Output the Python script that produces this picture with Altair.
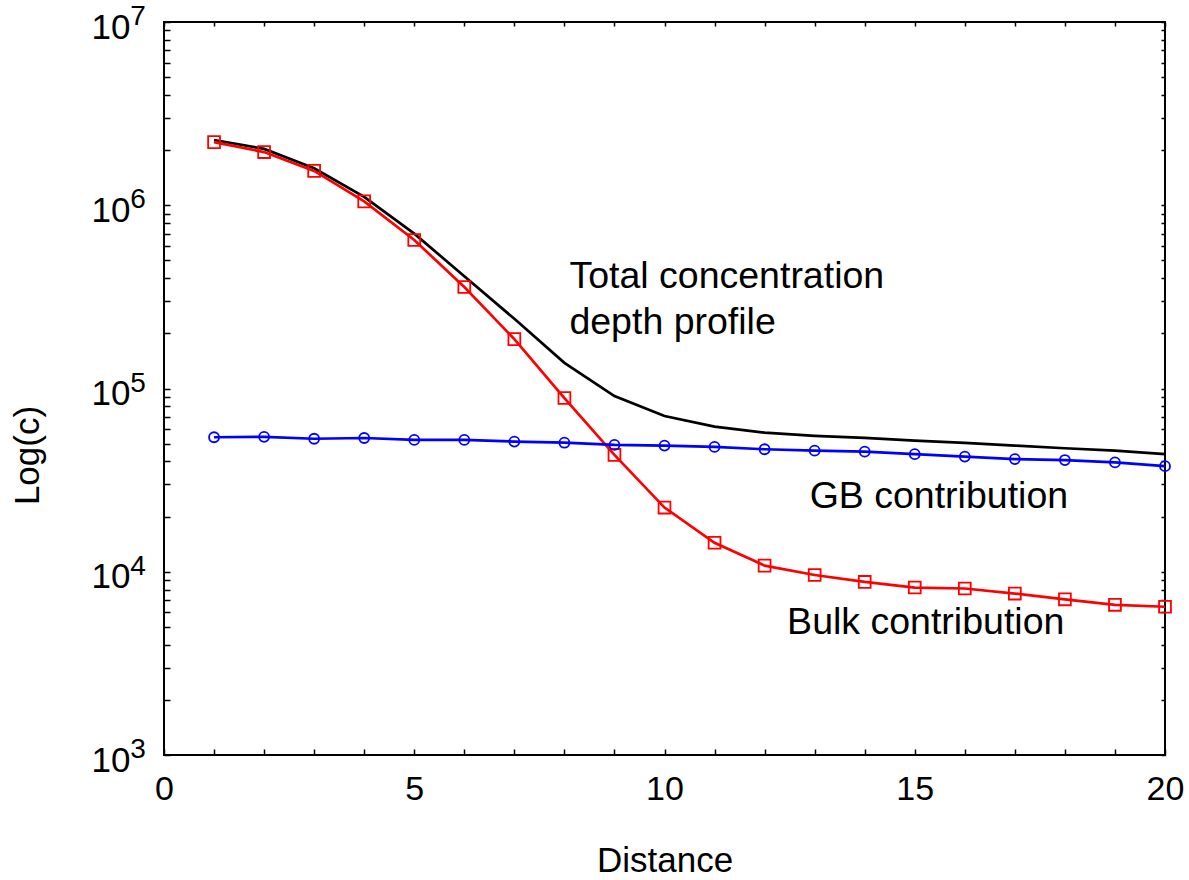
import altair as alt
import pandas as pd

# Depth profiles: concentration vs distance
distance = list(range(1, 21))
total = [2.27e6, 2.03e6, 1.59e6, 1.11e6, 7.0e5, 4.1e5, 2.4e5, 1.38e5, 9.1e4, 7.08e4,
         6.2e4, 5.74e4, 5.52e4, 5.38e4, 5.19e4, 5.05e4, 4.88e4, 4.72e4, 4.58e4, 4.38e4]
bulk = [2.21e6, 1.95e6, 1.54e6, 1.05e6, 6.46e5, 3.58e5, 1.86e5, 8.87e4, 4.34e4, 2.24e4,
        1.44e4, 1.08e4, 9.6e3, 8.8e3, 8.2e3, 8.1e3, 7.6e3, 7.07e3, 6.6e3, 6.44e3]
gb = [5.42e4, 5.45e4, 5.32e4, 5.37e4, 5.24e4, 5.24e4, 5.13e4, 5.06e4, 4.92e4, 4.88e4,
      4.8e4, 4.66e4, 4.58e4, 4.52e4, 4.38e4, 4.25e4, 4.12e4, 4.07e4, 3.95e4, 3.77e4]

# Curve annotations (data coordinates)
note_text = ["Total concentration", "depth profile", "GB contribution", "Bulk contribution"]
note_x = [8.1, 8.1, 12.9, 12.45]
note_y = [4.06e5, 2.27e5, 2.56e4, 5.25e3]

# Decade labels on the y axis: base "10" from the axis, exponent drawn as text
decade_values = [1e3, 1e4, 1e5, 1e6, 1e7]
decade_exponents = ["3", "4", "5", "6", "7"]

x_ticks = list(range(0, 21))
y_ticks = [m * 10 ** e for e in range(3, 7) for m in range(1, 10)] + [10 ** 7]

FONT = "Liberation Sans"

df_total = pd.DataFrame({"distance": distance, "c": total})
df_bulk = pd.DataFrame({"distance": distance, "c": bulk})
df_gb = pd.DataFrame({"distance": distance, "c": gb})
df_notes = pd.DataFrame({"x": note_x, "y": note_y, "text": note_text})
df_exp = pd.DataFrame({"c": decade_values, "exp": decade_exponents})

x_scale = alt.Scale(domain=[0, 20], nice=False, zero=False)
y_scale = alt.Scale(type="log", domain=[1e3, 1e7], nice=False)

decade_label = (
    "abs(log(datum.value)/LN10 - round(log(datum.value)/LN10)) < 1e-6 ? '10' : ''"
)

x_axis = alt.Axis(
    orient="bottom", values=x_ticks, labelExpr="datum.value % 5 == 0 ? datum.label : ''",
    domain=False, grid=False, offset=-6, tickSize=6, tickWidth=1.5, tickColor="black",
    labelFont=FONT, labelFontSize=34, labelColor="black", labelPadding=17,
    labelFlush=False, labelOverlap=False,
    title="Distance", titleFont=FONT, titleFontSize=35, titleFontWeight="normal",
    titleColor="black", titlePadding=37,
)
y_axis = alt.Axis(
    orient="left", values=y_ticks, labelExpr=decade_label,
    domain=False, grid=False, offset=-6, tickSize=6, tickWidth=1.5, tickColor="black",
    labelFont=FONT, labelFontSize=35, labelColor="black", labelPadding=34,
    labelOffset=5, labelFlush=False, labelOverlap=False,
    title="Log(c)", titleFont=FONT, titleFontSize=35, titleFontWeight="normal",
    titleColor="black", titlePadding=46, titleY=433,
)
x_axis_top = alt.Axis(
    orient="top", values=x_ticks, labels=False, domain=False, grid=False,
    offset=-4, tickSize=4, tickWidth=1.5, tickColor="black", title=None,
)
y_axis_right = alt.Axis(
    orient="right", values=y_ticks, labels=False, domain=False, grid=False,
    offset=-4, tickSize=4, tickWidth=1.5, tickColor="black", title=None,
)

total_line = alt.Chart(df_total).mark_line(color="black", strokeWidth=2.7).encode(
    x=alt.X("distance:Q", scale=x_scale, axis=x_axis),
    y=alt.Y("c:Q", scale=y_scale, axis=y_axis),
)

bulk_line = alt.Chart(df_bulk).mark_line(color="#ff0000", strokeWidth=2.7).encode(
    x=alt.X("distance:Q", scale=x_scale, axis=None),
    y=alt.Y("c:Q", scale=y_scale, axis=None),
)
bulk_pts = alt.Chart(df_bulk).mark_point(
    shape="square", filled=False, color="#ff0000", size=140, strokeWidth=1.8, opacity=1
).encode(
    x=alt.X("distance:Q", scale=x_scale, axis=None),
    y=alt.Y("c:Q", scale=y_scale, axis=None),
)

gb_line = alt.Chart(df_gb).mark_line(color="#0000ff", strokeWidth=2.7).encode(
    x=alt.X("distance:Q", scale=x_scale, axis=None),
    y=alt.Y("c:Q", scale=y_scale, axis=None),
)
gb_pts = alt.Chart(df_gb).mark_point(
    shape="circle", filled=False, color="#0000ff", size=100, strokeWidth=1.8, opacity=1
).encode(
    x=alt.X("distance:Q", scale=x_scale, axis=None),
    y=alt.Y("c:Q", scale=y_scale, axis=None),
)

notes = alt.Chart(df_notes).mark_text(
    align="left", baseline="middle", font=FONT, fontSize=37.5, color="black"
).encode(
    x=alt.X("x:Q", scale=x_scale, axis=x_axis_top),
    y=alt.Y("y:Q", scale=y_scale, axis=y_axis_right),
    text="text:N",
)

# Superscript exponents next to the "10" decade labels
exponents = alt.Chart(df_exp).mark_text(
    align="center", baseline="middle", font=FONT, fontSize=28, color="black",
    dx=-26, dy=-5,
).encode(
    x=alt.X(datum=0, type="quantitative", scale=x_scale, axis=None),
    y=alt.Y("c:Q", scale=y_scale, axis=None),
    text="exp:N",
)

chart = (
    alt.layer(total_line, bulk_line, bulk_pts, gb_line, gb_pts, notes, exponents)
    .resolve_axis(x="independent", y="independent")
    .properties(
        width=1001,
        height=733,
        autosize="none",
        padding={"left": 164, "top": 22, "right": 24, "bottom": 125},
        background="white",
    )
    .configure_view(stroke="black", strokeWidth=2)
)

chart.save("out.html", embed_options={"renderer": "svg", "actions": False})
